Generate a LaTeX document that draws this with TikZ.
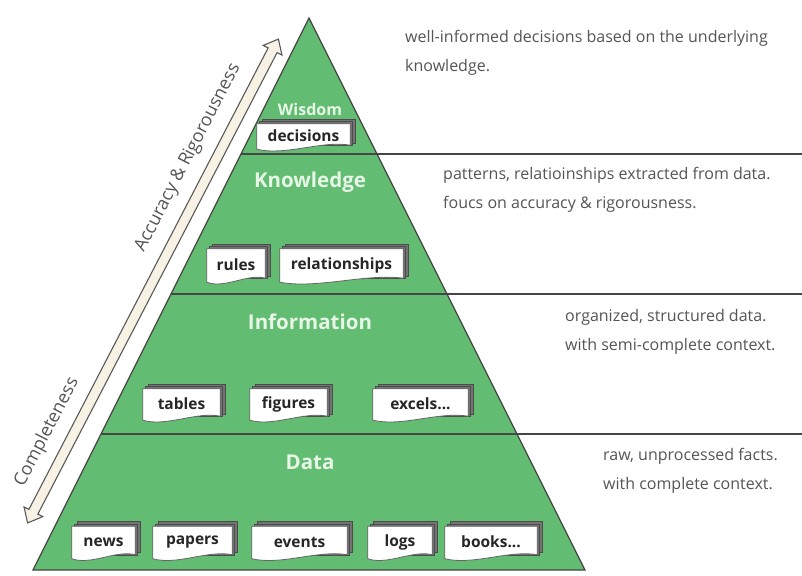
\documentclass[tikz,border=0pt]{standalone}
\usepackage{fontspec}
\setmainfont{Open Sans}
\usetikzlibrary{shapes.arrows,calc}
\definecolor{pyrgreen}{RGB}{98,188,113}
\definecolor{lineg}{RGB}{70,70,70}
\definecolor{txtg}{RGB}{85,85,85}
\definecolor{cream}{RGB}{248,242,228}
\definecolor{levelwhite}{RGB}{232,246,232}
\pgfdeclarelayer{bottom}
\pgfdeclarelayer{background}
\pgfsetlayers{bottom,background,main}
\tikzset{
  doclabel/.style={font=\bfseries\fontsize{15.5}{17}\selectfont, text=black!85, inner sep=0pt, minimum height=30pt, anchor=center},
  docfront/.style={fill=white, draw=black!60, line width=0.8pt},
  docback/.style={fill=black!55, draw=black!70, line width=0.6pt},
  level/.style={font=\bfseries\fontsize{20.5}{22}\selectfont, text=levelwhite},
  note/.style={font=\fontsize{16}{29}\selectfont, text=txtg, align=left, anchor=west, inner sep=0pt},
  arrowlabel/.style={font=\fontsize{18}{20}\selectfont, text=txtg, rotate=62.6},
  divider/.style={draw=lineg, line width=1.6pt},
}
\newcommand\docbox[6]{% name, x, y, text, width, height
  \node[doclabel, minimum width=#5pt, minimum height=#6pt] (#1) at (#2,#3) {#4};
  \begin{pgfonlayer}{background}
    \foreach \o in {5pt,2.5pt} {
      \filldraw[docback] ([shift={(\o,\o)}]#1.south west) rectangle ([shift={(\o,\o)}]#1.north east);
    }
    \filldraw[docfront] (#1.north west) -- (#1.north east) -- ([yshift=3pt]#1.south east)
      .. controls ($(#1.south east)!0.3!(#1.south west)+(0,8pt)$) and ($(#1.south east)!0.7!(#1.south west)+(0,-8pt)$)
      .. ([yshift=-1pt]#1.south west) -- cycle;
  \end{pgfonlayer}}
\begin{document}
\begin{tikzpicture}[x=1pt,y=-1pt]
\useasboundingbox (0,0) rectangle (802,575);
% pyramid
\coordinate (apex) at (309,18);
\coordinate (bl) at (33,570);
\coordinate (br) at (585,570);
\begin{pgfonlayer}{bottom}
  \fill[white] (0,0) rectangle (802,575);
  \filldraw[fill=pyrgreen, draw=lineg, line width=1.2pt] (apex) -- (br) -- (bl) -- cycle;
\end{pgfonlayer}
% dividers
\coordinate (d1l) at (241,154); \coordinate (d1r) at (802,154);
\coordinate (d2l) at (171,294); \coordinate (d2r) at (802,294);
\coordinate (d3l) at (101,434); \coordinate (d3r) at (802,434);
\draw[divider] (d1l) -- (d1r);
\draw[divider] (d2l) -- (d2r);
\draw[divider] (d3l) -- (d3r);
% level labels
\node[level, font=\bfseries\fontsize{16}{18}\selectfont] (wis) at (310,110) {Wisdom};
\node[level] (kno) at (310,182) {Knowledge};
\node[level] (inf) at (310,322) {Information};
\node[level] (dat) at (310,462) {Data};
% documents
\docbox{decisions}{303.5}{136}{decisions}{93}{24}
\docbox{rules}{236}{265}{rules}{58}{32}
\docbox{relationships}{341.5}{265}{relationships}{123}{32}
\docbox{tables}{181.5}{404}{tables}{77}{30}
\docbox{figures}{288.5}{404}{figures}{77}{30}
\docbox{excels}{420.5}{404}{excels...}{95}{30}
\docbox{news}{103.5}{542}{news}{63}{31}
\docbox{papers}{192.5}{542}{papers}{79}{31}
\docbox{events}{299.5}{542}{events}{95}{31}
\docbox{logs}{400}{542}{logs}{64}{31}
\docbox{books}{491}{542}{books...}{92}{31}
% side arrow
\node[double arrow, draw=black!65, fill=cream, line width=1.1pt, minimum height=545pt, inner sep=4.5pt,
      double arrow head extend=5.5pt, double arrow tip angle=80, rotate=62.6] (arr) at (153,281) {};
\node[arrowlabel] (acc) at (188,158) {Accuracy \& Rigorousness};
\node[arrowlabel] (comp) at (47,432) {Completeness};
% notes
\node[note] (n1) at (405,53) {well-informed decisions based on the underlying\\knowledge.};
\node[note] (n2) at (443,190) {patterns, relatioinships extracted from data.\\foucs on accuracy \& rigorousness.};
\node[note] (n3) at (565,332) {organized, structured data.\\with semi-complete context.};
\node[note] (n4) at (603,471) {raw, unprocessed facts.\\with complete context.};
\end{tikzpicture}
\end{document}
